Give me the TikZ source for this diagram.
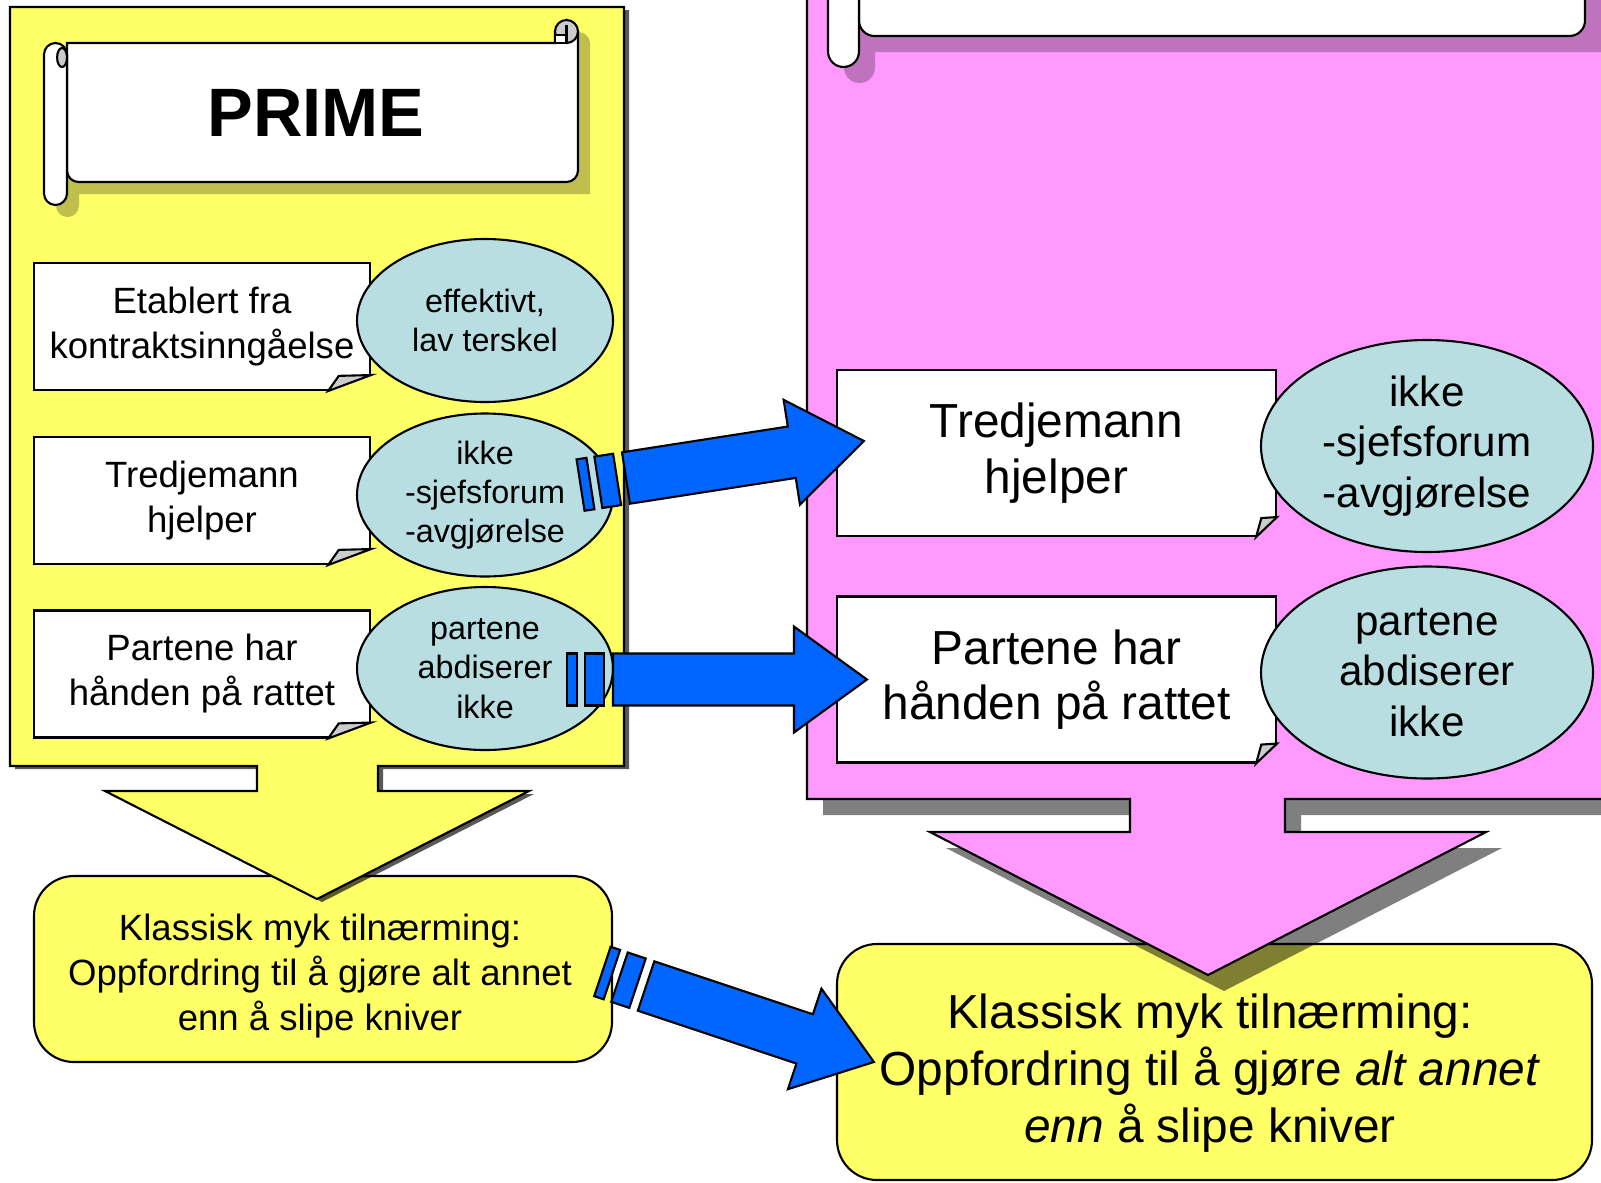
\documentclass[tikz,border=0pt]{standalone}
\usepackage{fontspec}
\setmainfont{Liberation Sans}
\usetikzlibrary{shapes.geometric}
\usetikzlibrary{calc}

\definecolor{panelyellow}{RGB}{255,255,102}
\definecolor{panelpink}{RGB}{255,153,255}
\definecolor{ovalblue}{RGB}{185,222,226}
\definecolor{arrowblue}{RGB}{0,102,255}
\definecolor{foldgray}{RGB}{204,204,204}
\definecolor{shadeyellow}{RGB}{191,191,77}
\definecolor{shadepink}{RGB}{191,115,191}

\tikzset{
  outline/.style={draw=black, line width=0.6pt},
  note/.style={outline, fill=white, rectangle, inner sep=0pt, align=center},
  oval/.style={outline, fill=ovalblue, ellipse, inner sep=0pt, align=center},
  goalbox/.style={outline, fill=panelyellow, rectangle, rounded corners=4mm, inner sep=0pt},
  barrow/.style={outline, fill=arrowblue},
  smalltext/.style={font=\fontsize{10.4}{12.8}\selectfont},
  smallovaltext/.style={font=\fontsize{9.2}{11.2}\selectfont},
  bigtext/.style={font=\fontsize{13.6}{15.8}\selectfont},
  goaltext/.style={font=\fontsize{13.6}{16.3}\selectfont},
  bigovaltext/.style={font=\fontsize{12}{14.3}\selectfont},
}

% folded corner on a note: node, fold width, fold height, panel colour
\newcommand{\dogear}[4]{%
  \fill[#4] ($(#1.south east)+({-#2},3)$) -- ($(#1.south east)+({-#2},0)$)
    -- ($(#1.south east)+(0,{-#3})$) -- ($(#1.south east)+(3,{-#3})$)
    -- ($(#1.south east)+(3,3)$) -- cycle;
  \filldraw[outline, fill=foldgray] ($(#1.south east)+({-#2},0)$)
    -- ($(#1.south east)+({-0.75*#2},{-0.95*#3})$)
    -- ($(#1.south east)+(0,{-#3})$) -- cycle;
}

% scroll banner: left, top, right, bottom, curl radius, shadow offset, shadow colour
\newcommand{\scrollbanner}[7]{%
  \begin{scope}[shift={(#6,#6)}]
    \fill[#7] ({#1+2*#5},{#2+2*#5}) -- ({#3-2*#5},{#2+2*#5}) -- ({#3-2*#5},{#2+#5})
      -- ({#3-#5},#2) -- (#3,{#2+#5}) -- (#3,{#4-2*#5}) -- ({#1+2*#5},{#4-2*#5}) -- cycle;
    \fill[#7] ({#3-#5},{#2+#5}) circle[radius={#5*0.1mm}];
    \fill[#7, rounded corners={#5*0.1mm}] (#1,{#2+2*#5}) rectangle ({#1+2*#5},#4);
  \end{scope}
  \filldraw[outline, fill=white] ({#1+2*#5},{#2+2*#5}) -- ({#3-2*#5},{#2+2*#5}) -- ({#3-2*#5},{#2+#5})
    -- ({#3-#5},#2) -- (#3,{#2+#5}) [rounded corners={#5*0.1mm}] -- (#3,{#4-2*#5})
    -- ({#1+2*#5},{#4-2*#5}) [sharp corners] -- cycle;
  \filldraw[outline, fill=foldgray] ({#3-#5},{#2+#5}) circle[radius={#5*0.1mm}];
  \filldraw[outline, fill=white] ({#3-2*#5},{#2+1.3*#5}) rectangle ({#3-#5},{#2+2*#5});
  \draw[outline] ({#3-#5},{#2+0.45*#5}) -- ({#3-#5},{#2+1.4*#5});
  \filldraw[outline, fill=white, rounded corners={#5*0.1mm}] (#1,{#2+2*#5}) rectangle ({#1+2*#5},#4);
  \filldraw[outline, fill=foldgray] ({#1+1.57*#5},{#2+3.26*#5}) ellipse[x radius={0.43*#5*0.1mm}, y radius={0.83*#5*0.1mm}];
}

% broken block arrow from one coordinate to another
\newcommand{\blockarrow}[2]{%
  \path let \p1=($(#2)-(#1)$) in
    \pgfextra{\pgfmathsetmacro\tmpang{atan2(\y1,\x1)}\xdef\arrang{\tmpang}%
      \pgfmathsetmacro\tmplen{veclen(\x1,\y1)/0.284528}\xdef\arrlen{\tmplen}};
  \begin{scope}[shift={(#1)}, rotate=\arrang]
    \draw[barrow] (-46,-26) rectangle (-36,26);
    \draw[barrow] (-28,-26) rectangle (-9,26);
    \draw[barrow] (0,-26) -- ({\arrlen-73},-26) -- ({\arrlen-73},-53) -- (\arrlen,0)
      -- ({\arrlen-73},53) -- ({\arrlen-73},26) -- (0,26) -- cycle;
  \end{scope}
}

\begin{document}
\begin{tikzpicture}[x=0.1mm, y=-0.1mm]
  \useasboundingbox (0,0) rectangle (1601,1182);
  \clip (0,0) rectangle (1601,1182);

  % goals at the bottom
  \node[goalbox, minimum width=57.8mm, minimum height=18.6mm] (l_goal) at (323,969) {};
  \node[smalltext, align=center] (l_goal_txt) at (320,976)
    {Klassisk myk tilnærming:\\Oppfordring til å gjøre alt annet\\enn å slipe kniver};
  \node[goalbox, minimum width=75.5mm, minimum height=23.6mm] (r_goal) at (1214.5,1062) {};
  \node[goaltext, align=center] (r_goal_txt) at (1210,1073)
    {Klassisk myk tilnærming:\\Oppfordring til å gjøre \textit{alt annet}\\\textit{enn} å slipe kniver};

  % yellow panel with its arrow
  \fill[black, fill opacity=0.65] (15,10) -- (629,10) -- (629,769) -- (383,769) -- (383,794)
    -- (534,794) -- (322,902) -- (110,794) -- (262,794) -- (262,769) -- (15,769) -- cycle;
  \filldraw[outline, fill=panelyellow] (10,7) -- (624,7) -- (624,766) -- (378,766) -- (378,791)
    -- (529,791) -- (317,899) -- (105,791) -- (257,791) -- (257,766) -- (10,766) -- cycle;

  % pink panel with its arrow
  \fill[black, fill opacity=0.5] (823,-4) -- (1636,-4) -- (1636,815) -- (1301,815) -- (1301,848)
    -- (1502,848) -- (1224,991) -- (946,848) -- (1146,848) -- (1146,815) -- (823,815) -- cycle;
  \filldraw[outline, fill=panelpink] (807,-20) -- (1620,-20) -- (1620,799) -- (1285,799) -- (1285,832)
    -- (1486,832) -- (1208,975) -- (930,832) -- (1130,832) -- (1130,799) -- (807,799) -- cycle;

  % banners
  \scrollbanner{44}{20}{578}{205}{11.5}{12}{shadeyellow}
  \scrollbanner{828}{-200}{1585}{67}{15.5}{16}{shadepink}
  \node[font=\fontsize{19.5}{23}\selectfont\bfseries] (prime) at (316,113) {PRIME};

  % notes
  \node[note, smalltext, minimum width=33.6mm, minimum height=12.7mm] (l_note1) at (202,326.5)
    {Etablert fra\\kontraktsinngåelse};
  \node[note, smalltext, minimum width=33.6mm, minimum height=12.7mm] (l_note2) at (202,500.5)
    {Tredjemann\\hjelper};
  \node[note, smalltext, minimum width=33.6mm, minimum height=12.7mm] (l_note3) at (202,674)
    {Partene har\\hånden på rattet};
  \node[note, bigtext, minimum width=43.9mm, minimum height=16.6mm] (r_note1) at (1056.5,453)
    {Tredjemann\\hjelper};
  \node[note, bigtext, minimum width=43.9mm, minimum height=16.6mm] (r_note2) at (1056.5,679.5)
    {Partene har\\hånden på rattet};
  \dogear{l_note1}{43}{16}{panelyellow}
  \dogear{l_note2}{43}{16}{panelyellow}
  \dogear{l_note3}{43}{16}{panelyellow}
  \dogear{r_note1}{21}{20}{panelpink}
  \dogear{r_note2}{21}{20}{panelpink}

  % ovals
  \node[oval, smallovaltext, minimum width=25.6mm, minimum height=16.3mm] (l_ov1) at (485,320.5)
    {effektivt,\\lav terskel};
  \node[oval, smallovaltext, minimum width=25.6mm, minimum height=16.3mm] (l_ov2) at (485,495)
    {ikke\\-sjefsforum\\-avgjørelse};
  \node[oval, smallovaltext, minimum width=25.6mm, minimum height=16.3mm] (l_ov3) at (485,668.5)
    {partene\\abdiserer\\ikke};
  \node[oval, bigovaltext, minimum width=33.2mm, minimum height=21.2mm] (r_ov1) at (1427,446)
    {ikke\\-sjefsforum\\-avgjørelse};
  \node[oval, bigovaltext, minimum width=33.2mm, minimum height=21.2mm] (r_ov2) at (1427,672.5)
    {partene\\abdiserer\\ikke};

  % blue arrows
  \coordinate (a1s) at ($(l_ov2.center)+(141,-17)$);
  \coordinate (a1e) at ($(r_note1.west)+(28,-12)$);
  \coordinate (a2s) at ($(l_ov3.center)+(128,11)$);
  \coordinate (a2e) at ($(r_note2.west)+(31,0)$);
  \coordinate (a3s) at ($(l_goal.east)+(33,17)$);
  \coordinate (a3e) at ($(r_goal.west)+(38,0)$);
  \blockarrow{a1s}{a1e}
  \blockarrow{a2s}{a2e}
  \blockarrow{a3s}{a3e}
\end{tikzpicture}
\end{document}
